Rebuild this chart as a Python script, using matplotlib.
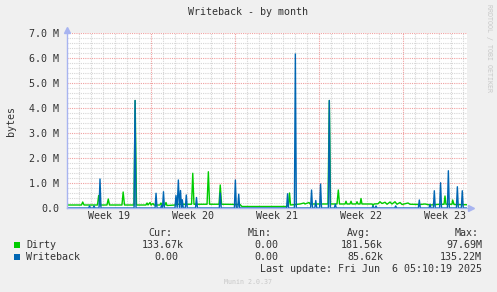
import matplotlib as mlp
mlp.use("Agg")
import matplotlib.pyplot as plt
from matplotlib.patches import Rectangle

# x in days since start of graph, y in millions of bytes
dirty_days = [0.00, 1.21, 1.31, 1.42, 2.54, 2.64, 2.75, 3.33, 3.44, 3.54, 4.58, 4.68, 4.79,
              5.58, 5.68, 5.79, 6.58, 6.67, 6.75, 6.92, 7.00, 7.17, 7.25, 7.75, 7.83, 7.92,
              8.17, 8.25, 8.33, 9.00, 9.08, 10.38, 10.48, 10.58, 11.67, 11.78, 11.88,
              12.67, 12.77, 12.88, 14.42, 14.58, 18.25, 18.46, 18.54, 18.63, 19.42, 19.75,
              19.83, 20.17, 20.25, 21.75, 21.86, 21.96, 22.50, 22.61, 22.71, 23.17, 23.25,
              23.33, 23.58, 23.67, 23.75, 24.08, 24.17, 24.25, 24.42, 24.50, 24.58, 25.42,
              25.50, 25.58, 25.92, 26.08, 26.25, 26.50, 26.67, 26.92, 27.08, 27.33, 27.50,
              27.75, 27.92, 28.42, 28.58, 29.42, 29.83, 30.25, 31.08, 31.42, 31.50, 31.58,
              32.08, 32.14, 32.25, 33.33]
dirty_vals = [0.12, 0.12, 0.24, 0.12, 0.12, 0.50, 0.12, 0.12, 0.36, 0.12, 0.12, 0.64, 0.12,
              0.12, 4.30, 0.12, 0.12, 0.20, 0.12, 0.22, 0.12, 0.18, 0.12, 0.12, 0.20, 0.12,
              0.12, 0.22, 0.10, 0.12, 0.15, 0.15, 1.39, 0.15, 0.15, 1.45, 0.15,
              0.15, 0.92, 0.15, 0.14, 0.06, 0.06, 0.10, 0.60, 0.12, 0.16, 0.20,
              0.16, 0.22, 0.16, 0.16, 4.30, 0.16, 0.16, 0.72, 0.16, 0.16, 0.27,
              0.16, 0.16, 0.27, 0.16, 0.16, 0.25, 0.16, 0.16, 0.38, 0.16, 0.16,
              0.10, 0.16, 0.17, 0.25, 0.18, 0.23, 0.15, 0.24, 0.16, 0.25, 0.15,
              0.22, 0.14, 0.20, 0.15, 0.14, 0.16, 0.12, 0.15, 0.15, 0.48, 0.15,
              0.15, 0.32, 0.14, 0.13]

wb_days = [0.00, 1.80, 1.88, 1.96, 2.17, 2.25, 2.33, 2.67, 2.75, 2.83, 5.59, 5.67, 5.75,
           7.34, 7.42, 7.50, 7.80, 7.88, 7.96, 8.04, 8.12, 9.00, 9.08, 9.18, 9.28, 9.37,
           9.46, 9.54, 9.61, 9.69, 9.86, 9.94, 10.02, 10.71, 10.79, 10.87, 12.69, 12.77,
           12.85, 13.95, 14.03, 14.11, 14.23, 14.31, 14.39, 18.30, 18.38, 18.46, 18.95,
           19.03, 19.11, 20.30, 20.38, 20.46, 20.65, 20.73, 20.81, 21.05, 21.13, 21.21,
           21.78, 21.86, 21.94, 22.28, 22.36, 22.44, 25.42, 25.50, 25.58, 25.67, 25.75,
           25.83, 27.31, 27.39, 27.47, 29.28, 29.36, 29.44, 30.17, 30.25, 30.33, 30.53,
           30.61, 30.69, 31.05, 31.13, 31.21, 31.70, 31.78, 31.86, 32.45, 32.53, 32.61,
           32.86, 32.94, 33.02, 33.33]
wb_vals = [0.00, 0.00, 0.08, 0.00, 0.00, 0.08, 0.00, 0.00, 1.16, 0.00, 0.00, 4.30, 0.00,
           0.00, 0.59, 0.00, 0.00, 0.10, 0.00, 0.65, 0.00, 0.00, 0.50, 0.00, 1.12, 0.00,
           0.70, 0.00, 0.33, 0.00, 0.00, 0.52, 0.00, 0.00, 0.42, 0.00, 0.00, 0.60,
           0.00, 0.00, 1.12, 0.00, 0.00, 0.55, 0.00, 0.00, 0.57, 0.00, 0.00,
           6.16, 0.00, 0.00, 0.72, 0.00, 0.00, 0.30, 0.00, 0.00, 0.96, 0.00,
           0.00, 4.30, 0.00, 0.00, 0.15, 0.00, 0.00, 0.08, 0.00, 0.00, 0.08,
           0.00, 0.00, 0.08, 0.00, 0.00, 0.32, 0.00, 0.00, 0.15, 0.00, 0.00,
           0.69, 0.00, 0.00, 1.01, 0.00, 0.00, 1.49, 0.00, 0.00, 0.85, 0.00,
           0.00, 0.69, 0.00, 0.00]

week_labels = ["Week 19", "Week 20", "Week 21", "Week 22", "Week 23"]
week_starts = [7, 14, 21, 28]
y_labels = ["0.0", "1.0 M", "2.0 M", "3.0 M", "4.0 M", "5.0 M", "6.0 M", "7.0 M"]

col_heads = ["Cur:", "Min:", "Avg:", "Max:"]
series_names = ["Dirty", "Writeback"]
series_colors = ["#00cc00", "#0066b3"]
dirty_stats = ["133.67k", "0.00", "181.56k", "97.69M"]
wb_stats = ["0.00", "0.00", "85.62k", "135.22M"]

W, H = 497, 292
FONT = "DejaVu Sans Mono"
FS = 7.2
TXT = "#333333"
AXC = "#a8b4f0"

fig = plt.figure(figsize=(W / 100, H / 100), dpi=100, facecolor="#f0f0f0")
ax = fig.add_axes([67 / W, (H - 208) / H, 400 / W, 175 / H])
ax.set_facecolor("white")
xmax = 400 / 12
ax.set_xlim(0, xmax)
ax.set_ylim(0, 7)
for s in ax.spines.values():
	s.set_visible(False)

# grid
dot = (0, (1, 1))
for d in range(1, 34):
	if d not in week_starts:
		ax.axvline(d, color="#d6d6d6", lw=0.8, ls=dot, zorder=1)
for v in [i * 0.2 for i in range(1, 36)]:
	if abs(v - round(v)) > 0.01:
		ax.axhline(v, color="#d6d6d6", lw=0.8, ls=dot, zorder=1)
for d in week_starts:
	ax.axvline(d, color="#f0a0a0", lw=0.8, ls=dot, zorder=2)
for v in range(1, 8):
	ax.axhline(v, color="#f0a0a0", lw=0.8, ls=dot, zorder=2)

ax.plot(dirty_days, dirty_vals, color=series_colors[0], lw=1.0, zorder=4)
ax.plot(wb_days, wb_vals, color=series_colors[1], lw=1.0, zorder=5)

# axes with arrows
ax.plot([0, xmax + 0.25], [0, 0], color=AXC, lw=1.0, clip_on=False, zorder=6)
ax.plot([0, 0], [0, 7.1], color=AXC, lw=1.0, clip_on=False, zorder=6)
ax.plot([xmax + 0.3], [0], marker=">", ms=4, color=AXC, clip_on=False, zorder=6)
ax.plot([0], [7.12], marker="^", ms=4, color=AXC, clip_on=False, zorder=6)

ax.set_yticks(range(8))
ax.set_yticklabels(y_labels, fontfamily=FONT, fontsize=FS, color=TXT)
ax.set_xticks([3.5 + 7 * i for i in range(5)])
ax.set_xticklabels(week_labels, fontfamily=FONT, fontsize=FS, color=TXT)
ax.tick_params(axis="y", length=0, pad=5.5)
ax.tick_params(axis="x", length=0, pad=2.5)

def ft(x, y, s, **kw):
	kw.setdefault("fontfamily", FONT)
	kw.setdefault("fontsize", FS)
	kw.setdefault("color", TXT)
	kw.setdefault("va", "center")
	fig.text(x / W, 1 - y / H, s, **kw)

ft(248, 12, "Writeback - by month", ha="center")
ft(11, 121, "bytes", ha="center", rotation=90)
ft(489, 48, "RRDTOOL / TOBI OETIKER", ha="center", rotation=270, fontsize=4.8, color="#c8c8c8")

head_x = [172, 272, 371, 479]
val_x = [[184, 278, 383, 482], [178, 278, 383, 482]]
for hx, h in zip(head_x, col_heads):
	ft(hx, 233, h, ha="right")
rows = [dirty_stats, wb_stats]
for i, name in enumerate(series_names):
	y = 245 + 12 * i
	fig.patches.append(Rectangle((14 / W, 1 - (y + 3) / H), 6 / W, 6 / H,
		transform=fig.transFigure, facecolor=series_colors[i], edgecolor="none"))
	ft(26, y, name, ha="left")
	for vx, v in zip(val_x[i], rows[i]):
		ft(vx, y, v, ha="right")
ft(482, 269, "Last update: Fri Jun  6 05:10:19 2025", ha="right")
ft(248, 282, "Munin 2.0.37", ha="center", fontsize=4.8, color="#c8c8c8")

fig.savefig("out.png", dpi=100, facecolor=fig.get_facecolor())
